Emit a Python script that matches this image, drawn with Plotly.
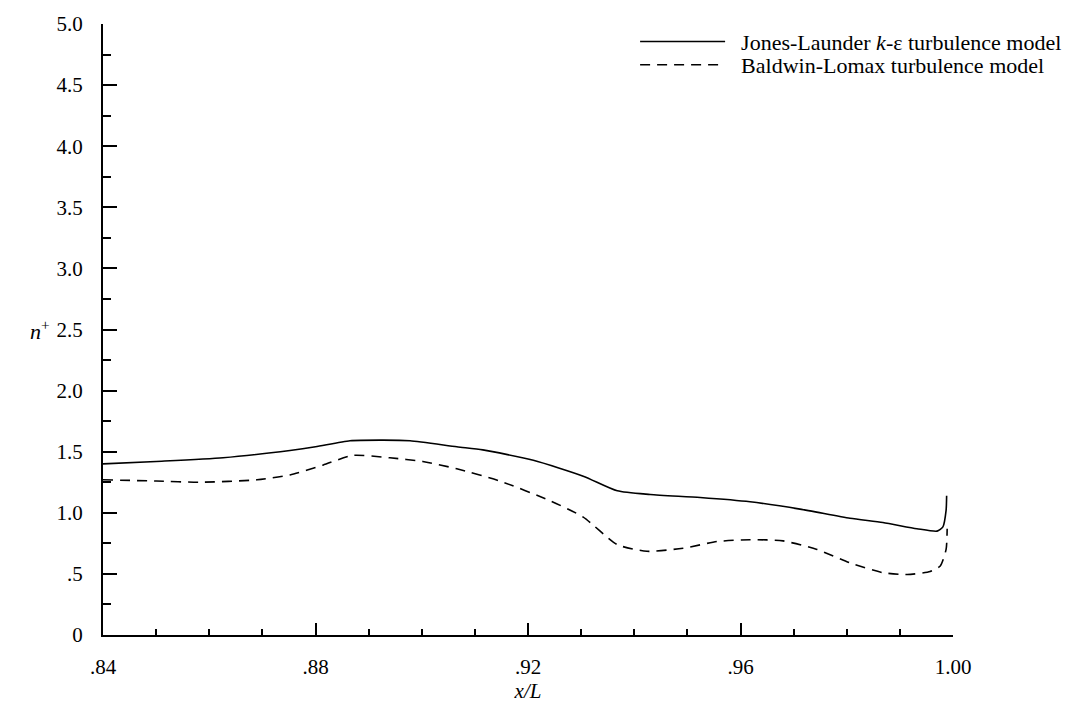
import plotly.graph_objects as go

# Jones-Launder k-epsilon (solid)
jl_x = [0.840, 0.850, 0.8626, 0.8752, 0.880, 0.8865, 0.8927, 0.8978, 0.9066, 0.9115,
        0.921, 0.9304, 0.9368, 0.943, 0.9524, 0.9618, 0.9712, 0.9806, 0.9868, 0.9932,
        0.997, 0.9981, 0.9987, 0.9988]
jl_y = [1.40, 1.42, 1.45, 1.51, 1.54, 1.59, 1.595, 1.59, 1.54, 1.515,
        1.43, 1.30, 1.18, 1.15, 1.125, 1.09, 1.03, 0.955, 0.92, 0.87,
        0.85, 0.885, 1.02, 1.14]

# Baldwin-Lomax (dashed)
bl_x = [0.840, 0.850, 0.8583, 0.869, 0.8752, 0.8814, 0.887, 0.894, 0.9002, 0.9066,
        0.9147, 0.9241, 0.9304, 0.9368, 0.9424, 0.9492, 0.9556, 0.9618, 0.968, 0.9744,
        0.9806, 0.9868, 0.9914, 0.9957, 0.9976, 0.9987, 0.9989]
bl_y = [1.27, 1.26, 1.25, 1.27, 1.31, 1.39, 1.47, 1.45, 1.42, 1.36,
        1.26, 1.10, 0.965, 0.74, 0.685, 0.71, 0.765, 0.78, 0.77, 0.70,
        0.59, 0.51, 0.495, 0.52, 0.565, 0.70, 0.87]

x_tickvals = [0.84, 0.88, 0.92, 0.96, 1.00]
x_ticktext = [".84", ".88", ".92", ".96", "1.00"]
y_tickvals = [0, 0.5, 1.0, 1.5, 2.0, 2.5, 3.0, 3.5, 4.0, 4.5, 5.0]
y_ticktext = ["0", ".5", "1.0", "1.5", "2.0", "2.5", "3.0", "3.5", "4.0", "4.5", "5.0"]

FONT = "Liberation Serif, Times New Roman, serif"
LEG_FONT = dict(family=FONT, size=22, color="black")
GAP = "\u2002"

fig = go.Figure()
fig.add_trace(go.Scatter(
    x=jl_x, y=jl_y, mode="lines", legend="legend",
    line=dict(color="black", width=1.6, shape="spline", smoothing=0.6),
    name=GAP + "Jones-Launder <i>k</i>-ε turbulence model"))
fig.add_trace(go.Scatter(
    x=bl_x, y=bl_y, mode="lines", legend="legend2",
    line=dict(color="black", width=1.6, dash="10px,7px", shape="spline", smoothing=0.6),
    name=GAP + "Baldwin-Lomax turbulence model"))

fig.update_layout(
    width=1091, height=710,
    margin=dict(l=103, r=138, t=14, b=69),
    paper_bgcolor="white", plot_bgcolor="white",
    font=dict(family=FONT, size=21, color="black"),
    showlegend=True,
    legend=dict(x=0.626, y=0.971, xanchor="left", yanchor="middle", font=LEG_FONT,
                itemwidth=85, bgcolor="rgba(0,0,0,0)"),
    legend2=dict(x=0.626, y=0.933, xanchor="left", yanchor="middle", font=LEG_FONT,
                 itemwidth=85, bgcolor="rgba(0,0,0,0)"),
    xaxis=dict(range=[0.84, 1.0], tickvals=x_tickvals, ticktext=x_ticktext,
               showgrid=False, zeroline=False, showline=True, linecolor="black", linewidth=2,
               ticks="inside", ticklen=12, tickwidth=2, tickcolor="black",
               ticklabelstandoff=12,
               minor=dict(dtick=0.01, tick0=0.84, ticks="inside", ticklen=6, tickwidth=1.5,
                          tickcolor="black", showgrid=False),
               title=dict(text="<i>x/L</i>", font=dict(family=FONT, size=21), standoff=4)),
    yaxis=dict(range=[0, 5.0], tickvals=y_tickvals, ticktext=y_ticktext,
               showgrid=False, zeroline=False, showline=True, linecolor="black", linewidth=2,
               ticks="inside", ticklen=14, tickwidth=2, tickcolor="black",
               ticklabelstandoff=14,
               minor=dict(dtick=0.25, tick0=0, ticks="inside", ticklen=8, tickwidth=1.5,
                          tickcolor="black", showgrid=False)),
    annotations=[dict(text="<i>n</i><sup>+</sup>", xref="paper", yref="y", x=-0.088, y=2.5,
                      xanchor="left", yanchor="middle", showarrow=False,
                      font=dict(family=FONT, size=22, color="black"))],
)

fig.write_html("out.html")
